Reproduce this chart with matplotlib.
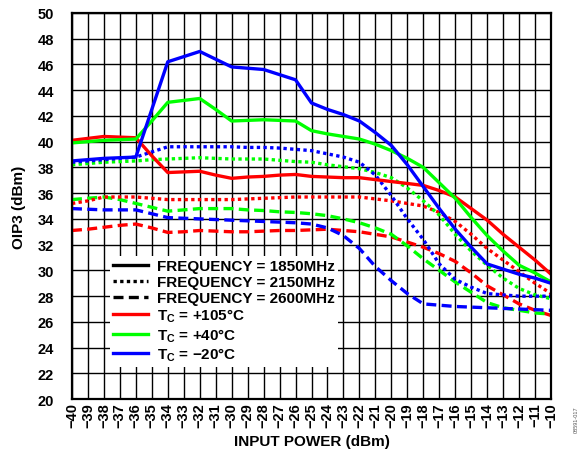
import matplotlib.pyplot as plt
from matplotlib.lines import Line2D

plt.rcParams['font.family'] = ['Liberation Sans', 'DejaVu Sans']
plt.rcParams['font.weight'] = 'bold'
plt.rcParams['mathtext.fontset'] = 'custom'
plt.rcParams['mathtext.rm'] = 'Liberation Sans:bold'

# input power, dBm
pin = list(range(-40, -9))

# OIP3 (dBm) at 1850 MHz
oip3_1850_m20 = [38.5, 38.6, 38.7, 38.75, 38.8, 42.5, 46.2, 46.6, 47.0, 46.4, 45.8,
                 45.7, 45.6, 45.2, 44.8, 43.0, 42.5, 42.1, 41.6, 40.7, 39.7, 38.2,
                 36.5, 34.8, 33.2, 31.8, 30.5, 30.1, 29.7, 29.4, 29.0]
oip3_1850_40 = [39.9, 40.0, 40.1, 40.15, 40.2, 41.6, 43.05, 43.2, 43.35, 42.5, 41.6,
                41.65, 41.7, 41.65, 41.6, 40.85, 40.6, 40.4, 40.2, 39.8, 39.3, 38.7,
                38.0, 36.8, 35.6, 34.1, 32.7, 31.5, 30.4, 29.8, 29.1]
oip3_1850_105 = [40.1, 40.25, 40.4, 40.35, 40.3, 38.9, 37.6, 37.65, 37.7, 37.4, 37.15,
                 37.25, 37.3, 37.4, 37.45, 37.3, 37.25, 37.2, 37.2, 37.05, 36.9, 36.75,
                 36.6, 36.2, 35.7, 34.8, 33.9, 32.8, 31.8, 30.8, 29.7]

# OIP3 (dBm) at 2150 MHz
oip3_2150_m20 = [38.4, 38.5, 38.6, 38.7, 38.8, 39.2, 39.6, 39.6, 39.6, 39.6, 39.6,
                 39.55, 39.55, 39.5, 39.4, 39.3, 39.05, 38.8, 38.4, 37.4, 35.8, 34.0,
                 32.4, 30.5, 29.3, 28.7, 28.2, 28.1, 28.0, 28.0, 28.0]
oip3_2150_40 = [38.2, 38.3, 38.4, 38.45, 38.5, 38.6, 38.65, 38.7, 38.75, 38.7, 38.65,
                38.65, 38.65, 38.55, 38.45, 38.4, 38.2, 38.05, 37.9, 37.6, 37.2, 36.4,
                35.4, 34.3, 32.8, 31.5, 30.4, 29.4, 28.6, 28.1, 27.8]
oip3_2150_105 = [35.2, 35.4, 35.7, 35.7, 35.7, 35.6, 35.5, 35.5, 35.5, 35.5, 35.5,
                 35.55, 35.6, 35.65, 35.7, 35.7, 35.7, 35.7, 35.7, 35.55, 35.4, 35.2,
                 35.0, 34.5, 33.8, 32.8, 31.7, 30.8, 29.9, 29.0, 28.2]

# OIP3 (dBm) at 2600 MHz
oip3_2600_m20 = [34.8, 34.75, 34.7, 34.7, 34.7, 34.4, 34.1, 34.05, 34.0, 33.95, 33.9,
                 33.85, 33.8, 33.75, 33.7, 33.6, 33.3, 32.7, 31.7, 30.3, 29.2, 28.2,
                 27.4, 27.3, 27.2, 27.15, 27.1, 27.05, 27.0, 26.95, 26.9]
oip3_2600_40 = [35.5, 35.6, 35.7, 35.5, 35.2, 34.9, 34.6, 34.7, 34.8, 34.8, 34.8,
                34.7, 34.65, 34.55, 34.5, 34.4, 34.25, 34.0, 33.7, 33.3, 32.8, 31.9,
                30.9, 30.0, 29.1, 28.3, 27.5, 27.1, 26.9, 26.7, 26.6]
oip3_2600_105 = [33.1, 33.2, 33.35, 33.5, 33.6, 33.3, 32.95, 33.0, 33.1, 33.05, 33.0,
                 33.0, 33.05, 33.1, 33.1, 33.15, 33.2, 33.1, 33.0, 32.8, 32.6, 32.2,
                 31.8, 31.3, 30.7, 29.8, 28.8, 28.1, 27.4, 26.9, 26.5]

red = '#ff0000'
green = '#00ff00'
blue = '#0000ff'
dot = (0, (1, 1))
dash = (0, (3, 1.6))

fig = plt.figure(figsize=(5.85, 4.77), dpi=100)
ax = fig.add_axes([0.123, 0.161, 0.819, 0.810])

lw = 2.4
ax.plot(pin, oip3_2600_105, color=red, lw=lw, ls=dash)
ax.plot(pin, oip3_2600_40, color=green, lw=lw, ls=dash)
ax.plot(pin, oip3_2600_m20, color=blue, lw=lw, ls=dash)
ax.plot(pin, oip3_2150_105, color=red, lw=lw, ls=dot)
ax.plot(pin, oip3_2150_40, color=green, lw=lw, ls=dot)
ax.plot(pin, oip3_2150_m20, color=blue, lw=lw, ls=dot)
ax.plot(pin, oip3_1850_105, color=red, lw=lw)
ax.plot(pin, oip3_1850_40, color=green, lw=lw)
ax.plot(pin, oip3_1850_m20, color=blue, lw=lw)

ax.set_xlim(-40, -10)
ax.set_ylim(20, 50)
ax.set_xticks(pin)
ax.set_xticklabels([str(p).replace('-', '\u2212') for p in pin], rotation=90,
                   fontsize=10.5, fontweight='bold')
ax.set_yticks(range(20, 51, 2))
ax.set_yticklabels([str(v) for v in range(20, 51, 2)], fontsize=10.5, fontweight='bold')
ax.tick_params(length=0)
ax.tick_params(axis='x', pad=2)
ax.tick_params(axis='y', pad=13)
ax.grid(True, color='black', lw=1.0)
ax.set_axisbelow(True)
for s in ax.spines.values():
    s.set_linewidth(1.6)

ax.set_xlabel('INPUT POWER (dBm)', fontsize=11, fontweight='bold', labelpad=5)
ax.set_ylabel('OIP3 (dBm)', fontsize=11, fontweight='bold', labelpad=8)

handles = [
    Line2D([], [], color='black', lw=lw),
    Line2D([], [], color='black', lw=lw, ls=dot),
    Line2D([], [], color='black', lw=lw, ls=dash),
    Line2D([], [], color=red, lw=lw),
    Line2D([], [], color=green, lw=lw),
    Line2D([], [], color=blue, lw=lw),
]
labels = [
    'FREQUENCY = 1850MHz',
    'FREQUENCY = 2150MHz',
    'FREQUENCY = 2600MHz',
    'T$_\\mathrm{C}$ = +105°C',
    'T$_\\mathrm{C}$ = +40°C',
    'T$_\\mathrm{C}$ = \u221220°C',
]
leg = ax.legend(handles, labels, loc='upper left', bbox_to_anchor=(0.064, 0.39),
                frameon=True, facecolor='white', edgecolor='none', framealpha=1,
                fancybox=False, borderpad=0.2, labelspacing=0.12,
                handlelength=2.3, handletextpad=0.55,
                prop={'weight': 'bold', 'size': 11})

fig.text(0.985, 0.12, '08591-017', rotation=90, fontsize=4, color='#555555',
         fontweight='normal', ha='center', va='center')

fig.savefig('out.png', dpi=100)
